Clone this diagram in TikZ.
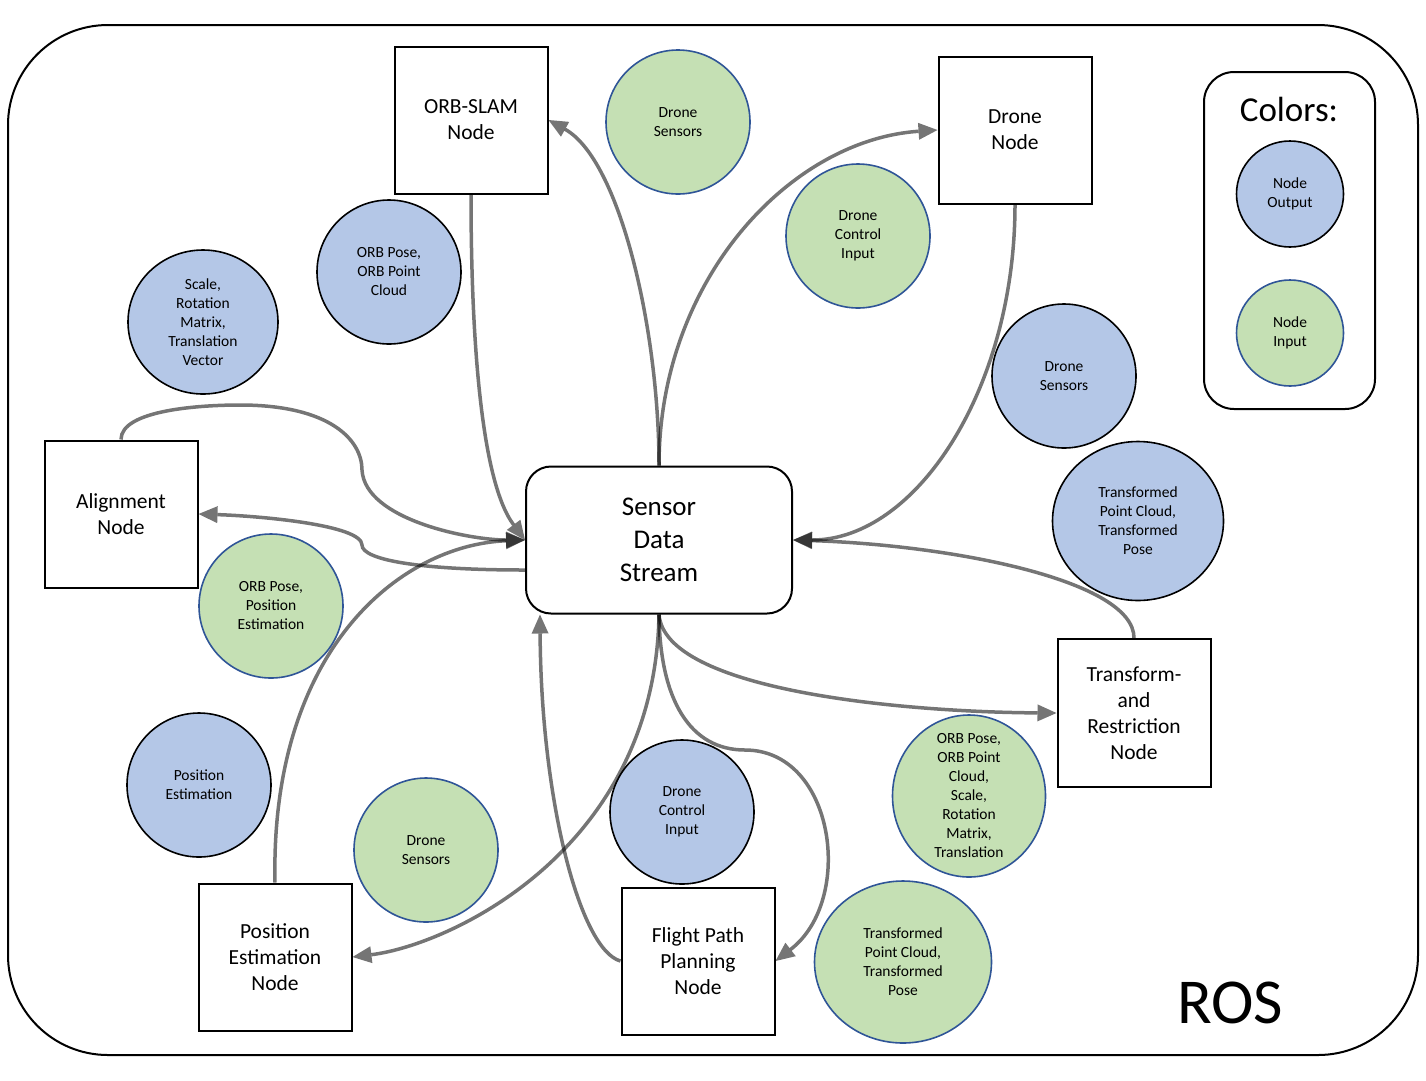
\documentclass[tikz,border=0pt]{standalone}
\usepackage{fontspec}
\setmainfont{Carlito}
\usetikzlibrary{arrows.meta,shapes.geometric,calc}
\definecolor{nblue}{HTML}{B4C7E7}
\definecolor{ngreen}{HTML}{C5E0B4}
\definecolor{nborder}{HTML}{2F5597}
\begin{document}
\begin{tikzpicture}[x=1pt,y=-1pt,
 box/.style={draw, line width=2pt, minimum width=153pt, minimum height=147pt, align=center, inner sep=0pt, font=\fontsize{21.5}{26}\selectfont},
 circ/.style={ellipse, line width=1.6pt, align=center, inner sep=-30pt, font=\fontsize{15.5}{19}\selectfont},
 outc/.style={circ, draw=black, fill=nblue},
 inc/.style={circ, draw=nborder, fill=ngreen},
 conn/.style={draw=black, opacity=0.54, line width=3.5pt, -{Triangle[length=19pt,width=17pt,line width=0pt]}},
]
\useasboundingbox (0,0) rectangle (1426,1080);
\draw[line width=2pt, rounded corners=100pt] (8,25) rectangle (1418,1055);
\node[font=\fontsize{64}{70}\selectfont] (ros) at (1230,1003) {ROS};

% legend
\draw[line width=2pt, rounded corners=30pt] (1204,72) rectangle (1375,409);
\node[font=\fontsize{35}{40}\selectfont] (colors) at (1289,109) {Colors:};
\node[outc, minimum width=107pt, minimum height=106pt] (lo) at (1290,194) {Node\\Output};
\node[inc, minimum width=107pt, minimum height=106pt] (li) at (1290,333) {Node\\Input};

% boxes
\node[box] (orb) at (471,120) {ORB-SLAM\\Node};
\node[box] (drone) at (1015,130) {Drone\\Node};
\node[draw, line width=2pt, rounded corners=25pt, minimum width=266pt, minimum height=147pt, align=center, font=\fontsize{27}{33}\selectfont] (sds) at (659,540) {Sensor\\Data\\Stream};
\node[box] (aln) at (121,514) {Alignment\\Node};
\node[box, minimum height=148pt] (trn) at (1134,713) {Transform-\\and\\Restriction\\Node};
\node[box] (pos) at (275,957) {Position\\Estimation\\Node};
\node[box] (fpp) at (698,961) {Flight Path\\Planning\\Node};

% circles
\node[inc, minimum width=144pt, minimum height=144pt] (c1) at (678,122) {Drone\\Sensors};
\node[inc, minimum width=144pt, minimum height=144pt] (c2) at (858,236) {Drone\\Control\\Input};
\node[outc, minimum width=144pt, minimum height=144pt] (c3) at (389,272) {ORB Pose,\\ORB Point\\Cloud};
\node[outc, minimum width=150pt, minimum height=144pt] (c4) at (203,322) {Scale,\\Rotation\\Matrix,\\Translation\\Vector};
\node[outc, minimum width=144pt, minimum height=144pt] (c5) at (1064,376) {Drone\\Sensors};
\node[outc, minimum width=171pt, minimum height=159pt] (c6) at (1138,521) {Transformed\\Point Cloud,\\Transformed\\Pose};
\node[inc, minimum width=144pt, minimum height=144pt] (c7) at (271,606) {ORB Pose,\\Position\\Estimation};
\node[outc, minimum width=144pt, minimum height=144pt] (c8) at (199,785) {Position\\Estimation};
\node[inc, minimum width=144pt, minimum height=144pt] (c9) at (426,850) {Drone\\Sensors};
\node[outc, minimum width=144pt, minimum height=144pt] (c10) at (682,812) {Drone\\Control\\Input};
\node[inc, minimum width=153pt, minimum height=162pt] (c11) at (969,796) {ORB Pose,\\ORB Point\\Cloud,\\Scale,\\Rotation\\Matrix,\\Translation};
\node[inc, minimum width=177pt, minimum height=162pt] (c12) at (903,962) {Transformed\\Point Cloud,\\Transformed\\Pose};

% connectors
\draw[conn] (orb.south) .. controls (471,330) and (480,480) .. (sds.west);
\draw[conn] (sds.north) .. controls (659,330) and (620,160) .. (orb.east);
\draw[conn] (sds.north) .. controls (659,280) and (790,140) .. (drone.west);
\draw[conn] (drone.south) .. controls (1015,389) and (916,540) .. (sds.east);
\draw[conn] (trn.north) .. controls (1134,580) and (950,545) .. (sds.east);
\draw[conn] (sds.south) .. controls (665,690) and (900,712) .. (trn.west);
\draw[conn] (sds.south) .. controls (660,700) and (690,750) .. (745,750) .. controls (835,750) and (855,900) .. (fpp.east);
\draw[conn] (fpp.west) .. controls (580,950) and (541,800) .. ($(sds.south west)+(15,0)$);
\draw[conn] (sds.south) .. controls (655,850) and (450,945) .. (pos.east);
\draw[conn] (pos.north) .. controls (270,650) and (400,545) .. (sds.west);
\draw[conn] (aln.north) .. controls (121,410) and (200,405) .. (240,405) .. controls (330,405) and (362,440) .. (362,470) .. controls (365,520) and (470,540) .. (sds.west);
\draw[conn] ($(sds.west)+(0,30)$) .. controls (420,570) and (362,560) .. (362,545) .. controls (362,525) and (260,516) .. (aln.east);
\end{tikzpicture}
\end{document}
